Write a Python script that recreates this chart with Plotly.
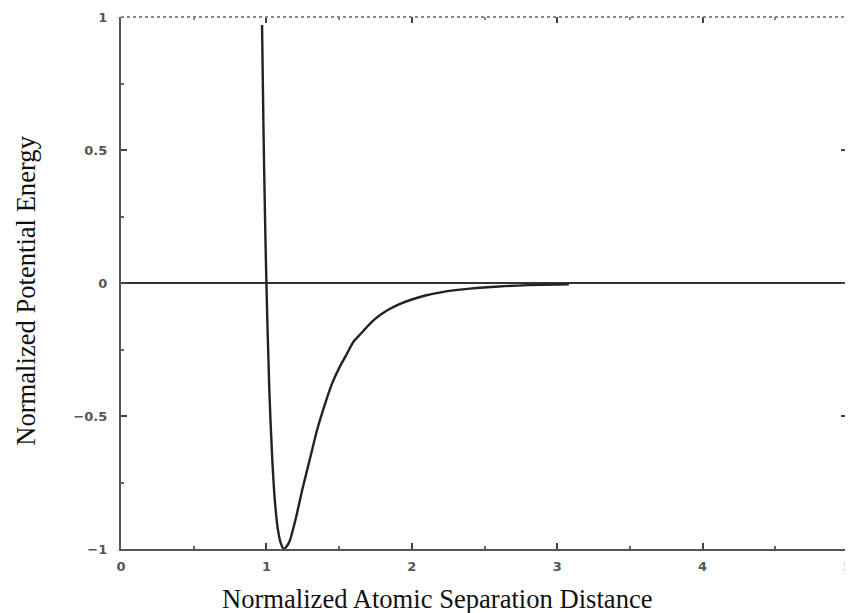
import plotly.graph_objects as go

# Curve values
sep_distance = [0.97, 0.98, 0.99, 1.00, 1.02, 1.04, 1.06, 1.08, 1.10, 1.12, 1.14, 1.16,
                1.20, 1.25, 1.30, 1.35, 1.40, 1.45, 1.50, 1.55, 1.60, 1.65, 1.70, 1.75,
                1.80, 1.85, 1.90, 2.00, 2.10, 2.20, 2.30, 2.40, 2.60, 2.80, 3.00, 3.08]
potential = [0.97, 0.58, 0.26, 0.00, -0.40, -0.66, -0.83, -0.93, -0.98, -1.00, -0.99, -0.97,
             -0.89, -0.77, -0.66, -0.55, -0.46, -0.38, -0.32, -0.27, -0.22, -0.19, -0.16, -0.134,
             -0.114, -0.097, -0.083, -0.062, -0.046, -0.035, -0.027, -0.021, -0.013, -0.008,
             -0.0055, -0.0045]

zero_x = [0, 5]
zero_y = [0, 0]

x_ticks = [0, 1, 2, 3, 4, 5]
x_ticklabels = ["0", "1", "2", "3", "4", "5"]
y_ticks = [-1, -0.5, 0, 0.5, 1]
y_ticklabels = ["\u22121", "\u22120.5", "0", "0.5", "1"]

x_title = "Normalized Atomic Separation Distance"
y_title = "Normalized Potential Energy"

fig = go.Figure()
fig.add_trace(go.Scatter(x=zero_x, y=zero_y, mode="lines",
                         line=dict(color="#333333", width=1.8), showlegend=False, hoverinfo="skip"))
fig.add_trace(go.Scatter(x=sep_distance, y=potential, mode="lines",
                         line=dict(color="#222222", width=2.4, shape="spline", smoothing=0.8),
                         showlegend=False))

tickfont = dict(family="DejaVu Sans", size=13, color="#555555", weight="bold")
titlefont = dict(family="Liberation Serif", size=26.6, color="#111111")

fig.update_layout(
    width=845, height=605,
    margin=dict(l=113, r=5, t=9, b=64, autoexpand=False),
    paper_bgcolor="white", plot_bgcolor="white",
    xaxis=dict(range=[0, 5], tickvals=x_ticks, ticktext=x_ticklabels, automargin=False,
               ticks="inside", ticklen=6, tickwidth=1.5, tickcolor="#444444",
               minor=dict(dtick=0.5, tick0=0, ticks="inside", ticklen=3, tickcolor="#666666"),
               showline=True, linecolor="#555555", linewidth=2.2, ticklabelstandoff=4,
               showgrid=False, zeroline=False, tickfont=tickfont),
    yaxis=dict(range=[-1, 1], tickvals=y_ticks, ticktext=y_ticklabels, automargin=False,
               ticks="inside", ticklen=6, tickwidth=1.5, tickcolor="#444444",
               minor=dict(dtick=0.25, tick0=0, ticks="inside", ticklen=3, tickcolor="#666666"),
               showline=True, linecolor="#555555", linewidth=2.2, ticklabelstandoff=9,
               showgrid=False, zeroline=False, tickfont=tickfont),
    xaxis2=dict(range=[0, 5], overlaying="x", side="top", tickvals=x_ticks, automargin=False,
                showticklabels=False, ticks="inside", ticklen=6, tickwidth=1.5, tickcolor="#444444",
                minor=dict(dtick=0.5, tick0=0, ticks="inside", ticklen=3, tickcolor="#888888"),
                showline=False, showgrid=False, zeroline=False),
    yaxis2=dict(range=[-1, 1], overlaying="y", side="right", tickvals=y_ticks, automargin=False,
                showticklabels=False, ticks="inside", ticklen=7, tickwidth=1.5, tickcolor="#444444",
                minor=dict(dtick=0.25, tick0=0, ticks="inside", ticklen=3, tickcolor="#888888"),
                showline=False, showgrid=False, zeroline=False),
    shapes=[
        dict(type="line", xref="paper", yref="paper", x0=0, x1=1, y0=1, y1=1,
             line=dict(color="#888888", width=2, dash="dot")),
        dict(type="line", xref="paper", yref="paper", x0=1, x1=1, y0=0, y1=1,
             line=dict(color="#888888", width=2, dash="dot")),
    ],
    annotations=[
        dict(text=x_title, xref="paper", yref="paper", x=0.436, y=-0.094,
             xanchor="center", yanchor="middle", showarrow=False, font=titlefont),
        dict(text=y_title, xref="paper", yref="paper", x=-0.131, y=0.485, textangle=-90,
             xanchor="center", yanchor="middle", showarrow=False, font=titlefont),
    ],
)
fig.add_trace(go.Scatter(x=[0], y=[0], xaxis="x2", yaxis="y2", mode="markers",
                         marker=dict(opacity=0), showlegend=False, hoverinfo="skip"))

fig.write_html("out.html")
